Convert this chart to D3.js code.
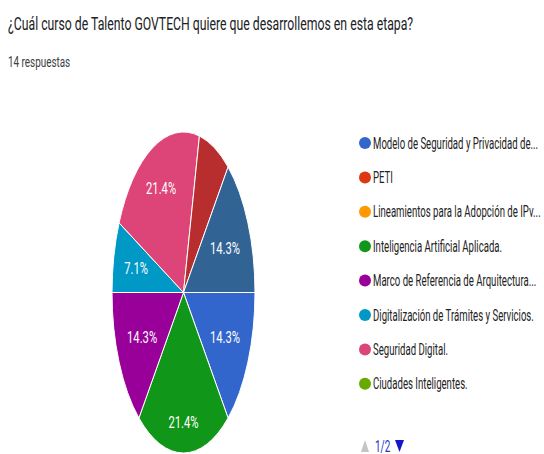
<!DOCTYPE html>
<html>
<head>
<meta charset="utf-8">
<script src="https://cdn.jsdelivr.net/npm/d3@7"></script>
<style>
  body { margin: 0; background: #fff; }
  svg { display: block; font-family: Roboto, "Noto Sans", sans-serif; }
</style>
</head>
<body>
<svg width="544" height="454"></svg>
<script>
const title = "¿Cuál curso de Talento GOVTECH quiere que desarrollemos en esta etapa?"
const subtitle = "14 respuestas"

// legend page 1 shows the first 8 options, the last two sit on page 2
const courses = [
  "Modelo de Seguridad y Privacidad de...",
  "PETI",
  "Lineamientos para la Adopción de IPv...",
  "Inteligencia Artificial Aplicada.",
  "Marco de Referencia de Arquitectura...",
  "Digitalización de Trámites y Servicios.",
  "Seguridad Digital.",
  "Ciudades Inteligentes.",
  "Opción 9",
  "Opción 10"
]
const responses = [2, 0, 0, 3, 2, 1, 3, 0, 1, 2]
const colors = ["#3366cc", "#dc3912", "#ff9900", "#109618", "#990099",
                "#0099c6", "#dd4477", "#66aa00", "#b82e2e", "#316395"]
const pageLabel = "1/2"
const perPage = 8

const data = courses.map((c, i) => ({name: c, count: responses[i], color: colors[i]}))
const total = d3.sum(responses)

const svg = d3.select("svg")

// the picture is squeezed sideways, so every text is narrowed
const addText = function(parent, x, y, str, size, fill, k, anchor) {
  const g = parent.append("g").attr("transform", `translate(${x},${y})`)
  const t = g.append("text")
    .attr("transform", `scale(${k},1)`)
    .attr("font-size", size)
    .attr("fill", fill)
    .attr("text-anchor", anchor || "start")
    .text(str)
  return t
}

addText(svg, 8, 30, title, 19, "#202124", 0.645)
addText(svg, 8, 67, subtitle, 15, "#3c4043", 0.66)

// pie, drawn round and then stretched into the ellipse
const cx = 183.5, cy = 292.5, rx = 71.5, ry = 160.5
const sx = rx / ry

const pie = d3.pie()
  .sort(null)
  .value(d => d.count)
  .startAngle(Math.PI / 2)
  .endAngle(Math.PI / 2 + 2 * Math.PI)

const arc = d3.arc().innerRadius(0).outerRadius(ry)

const slices = pie(data).filter(d => d.data.count > 0)

svg.append("g")
  .attr("transform", `translate(${cx},${cy}) scale(${sx},1)`)
  .selectAll("path")
  .data(slices)
  .enter().append("path")
  .attr("d", arc)
  .attr("fill", d => d.data.color)
  .attr("stroke", "#fff")
  .attr("stroke-width", 1)
  .attr("vector-effect", "non-scaling-stroke")

const toScreen = (a, r) => [cx + Math.sin(a) * r * sx, cy - Math.cos(a) * r]

// only label slices wide enough on screen to hold the text
const fits = d => {
  const r = ry * 0.72
  const p0 = toScreen(d.startAngle, r)
  const p1 = toScreen(d.endAngle, r)
  return Math.hypot(p1[0] - p0[0], p1[1] - p0[1]) > 40
}

const labelSize = 17
const labelK = 0.66
const labels = svg.append("g")

slices.filter(fits).forEach(d => {
  const t = addText(labels, 0, 0, d3.format(".1%")(d.data.count / total),
                    labelSize, "#fff", labelK, "middle")
    .attr("dy", "0.35em")
  // keep the outer edge of the label box at a fixed radius
  const a = (d.startAngle + d.endAngle) / 2
  const hw = t.node().getComputedTextLength() * labelK / 2 / sx
  const hh = labelSize * 0.38
  const r = ry * 0.85 - (hw * Math.abs(Math.sin(a)) + hh * Math.abs(Math.cos(a)))
  const p = toScreen(a, r)
  d3.select(t.node().parentNode).attr("transform", `translate(${p[0]},${p[1]})`)
})

// legend
const legendY = d3.scaleLinear().domain([0, 1]).range([143, 177.4])

const legend = svg.append("g")

data.slice(0, perPage).forEach((d, i) => {
  legend.append("circle")
    .attr("cx", 365)
    .attr("cy", legendY(i))
    .attr("r", 6)
    .attr("fill", d.color)
  addText(legend, 373, legendY(i), d.name, 16, "#222", 0.6)
    .attr("dy", "0.35em")
})

// pager
const pager = svg.append("g").attr("transform", "translate(0, 446)")

pager.append("path")
  .attr("d", "M361,6 L365,-6 L369,6 Z")
  .attr("fill", "#c4c4c4")

addText(pager, 375, 0, pageLabel, 16, "#2233bb", 0.62)
  .attr("dy", "0.35em")

pager.append("path")
  .attr("d", "M395,-6 L404,-6 L399.5,6 Z")
  .attr("fill", "#1515cc")
</script>
</body>
</html>
